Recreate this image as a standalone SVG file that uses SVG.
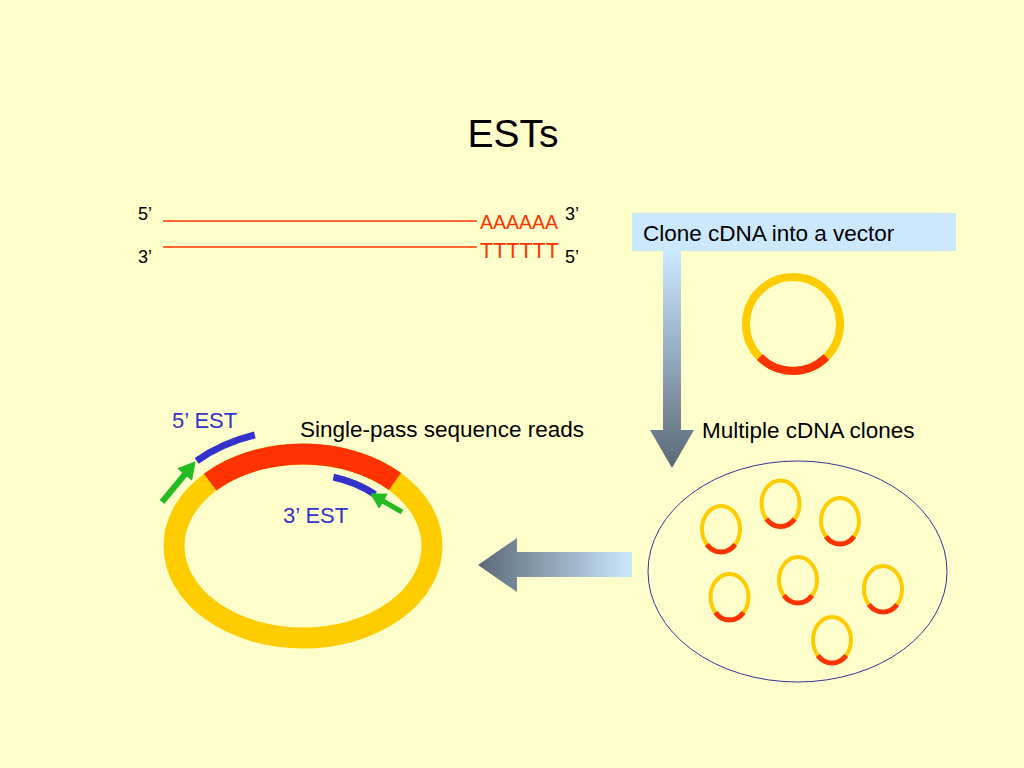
<svg xmlns="http://www.w3.org/2000/svg" xmlns:xlink="http://www.w3.org/1999/xlink" width="1024" height="768" viewBox="0 0 1024 768">
<style>
text{font-family:"Liberation Sans",Arial,sans-serif;}
.lbl{font-size:22.5px;fill:#000;}
.est{font-size:22px;fill:#3333CC;}
.end{font-size:18px;fill:#000;}
.seq{fill:#FF3300;}
.strand{stroke:#FF3300;stroke-width:1.3;fill:none;}
.yel{fill:none;stroke:#FFCC00;}
.red{fill:none;stroke:#FF3300;}
.blue{fill:none;stroke:#3333CC;stroke-width:7;}
.green{stroke:#22BB22;fill:#22BB22;}
</style>
<defs>
<linearGradient id="gv" x1="0" y1="0" x2="0" y2="1">
<stop offset="0" stop-color="#CCE8FF"/>
<stop offset="1" stop-color="#5A6977"/>
</linearGradient>
<linearGradient id="gh" x1="0" y1="0" x2="1" y2="0">
<stop offset="0" stop-color="#5A6977"/>
<stop offset="1" stop-color="#CCE8FF"/>
</linearGradient>
<g id="clone">
<ellipse cx="0" cy="0" rx="19" ry="23" class="yel" stroke-width="4"/>
<path d="M14.1,15.4 A19,23 0 0,1 -14.1,15.4" class="red" stroke-width="5"/>
</g>
</defs>
<rect width="1024" height="768" fill="#FFFFCC"/>
<text x="513" y="147" font-size="39" text-anchor="middle" fill="#000">ESTs</text>

<g id="cdna">
<line x1="163" y1="221" x2="477" y2="221" class="strand"/>
<line x1="163" y1="247" x2="477" y2="247" class="strand"/>
<text x="138" y="220" class="end">5’</text>
<text x="138" y="263" class="end">3’</text>
<text x="480" y="229" class="seq" font-size="19.5">AAAAAA</text>
<text x="480" y="258" class="seq" font-size="21.5">TTTTTT</text>
<text x="565" y="220" class="end">3’</text>
<text x="565" y="263" class="end">5’</text>
</g>

<g id="connectors">
<polygon points="663,251 681,251 681,430 694,430 672,468 650,430 663,430" fill="url(#gv)"/>
<polygon points="632,552 517,552 517,538 478,565 517,592 517,577 632,577" fill="url(#gh)"/>
</g>

<g id="clone-step">
<rect x="632" y="213" width="324" height="38" fill="#CCE8FF"/>
<text x="643" y="241" class="lbl">Clone cDNA into a vector</text>
</g>

<g id="vector">
<circle cx="793" cy="324" r="47" class="yel" stroke-width="8"/>
<path d="M826.2,357.2 A47,47 0 0,1 759.8,357.2" class="red" stroke-width="8"/>
</g>

<g id="clones">
<text x="702" y="438" class="lbl">Multiple cDNA clones</text>
<ellipse cx="797.5" cy="571.5" rx="149.5" ry="110.5" fill="none" stroke="#333399" stroke-width="1"/>
<use href="#clone" xlink:href="#clone" x="721" y="529"/>
<use href="#clone" xlink:href="#clone" x="780.5" y="503.5"/>
<use href="#clone" xlink:href="#clone" x="840" y="521"/>
<use href="#clone" xlink:href="#clone" x="729.5" y="597"/>
<use href="#clone" xlink:href="#clone" x="798" y="580"/>
<use href="#clone" xlink:href="#clone" x="883" y="589"/>
<use href="#clone" xlink:href="#clone" x="832" y="640"/>
</g>

<g id="reads">
<ellipse cx="303" cy="546" rx="129" ry="92" class="yel" stroke-width="21"/>
<path d="M210.2,482.1 A129,92 0 0,1 395,481.5" class="red" stroke-width="21"/>
<path d="M196.7,460.8 A155,117 0 0,1 254.8,434.8" class="blue"/>
<path d="M333.4,477.1 A104,72 0 0,1 375,494.5" class="blue"/>
<line x1="162" y1="502" x2="186" y2="473" class="green" stroke-width="6"/>
<polygon points="195,462 191.7,480 177.9,468.6" class="green" stroke-width="1"/>
<line x1="402" y1="512" x2="382" y2="500.5" class="green" stroke-width="5"/>
<polygon points="371,494 387.1,494.1 379.1,507.9" class="green" stroke-width="1"/>
<text x="172" y="428" class="est">5’ EST</text>
<text x="283" y="523" class="est">3’ EST</text>
<text x="300" y="437" class="lbl">Single-pass sequence reads</text>
</g>
</svg>
